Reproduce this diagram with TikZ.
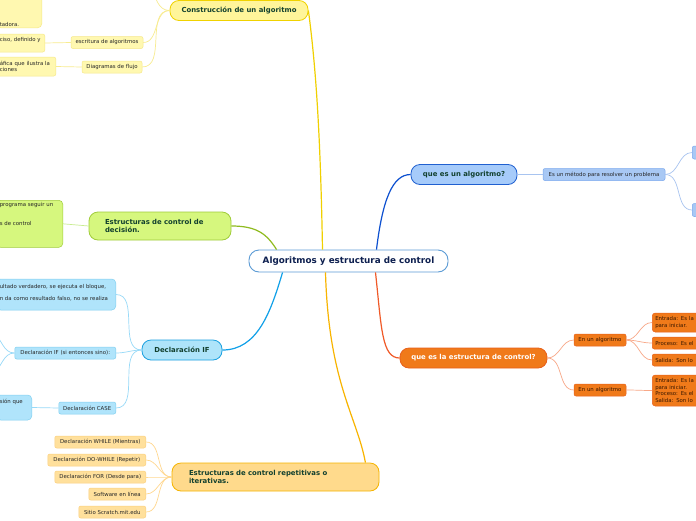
\documentclass[tikz,border=0pt]{standalone}
\usepackage{fontspec}
\setmainfont{DejaVu Sans}
\usetikzlibrary{calc}
\definecolor{navy}{HTML}{0D1F4F}
\definecolor{dkg}{HTML}{12402E}
\definecolor{txt}{HTML}{262626}
\definecolor{rootb}{HTML}{5B9BD5}
\definecolor{yfill}{HTML}{FFF59A}\definecolor{ybord}{HTML}{F0D200}
\definecolor{ysfill}{HTML}{FFF8B0}\definecolor{ysbord}{HTML}{F6E88A}
\definecolor{yline}{HTML}{F0D000}\definecolor{ysline}{HTML}{F8EC90}
\definecolor{gfill}{HTML}{D6F77E}\definecolor{gbord}{HTML}{A0CC3A}
\definecolor{gline}{HTML}{90BB20}\definecolor{gsline}{HTML}{C8EC90}
\definecolor{lbfill}{HTML}{AEE4FA}\definecolor{lbbord}{HTML}{1AA0E0}
\definecolor{lbsfill}{HTML}{B0E4FB}\definecolor{lbsbord}{HTML}{80D0F0}
\definecolor{lbline}{HTML}{10A0E8}\definecolor{lbsline}{HTML}{98DAF8}
\definecolor{oyfill}{HTML}{FFDA8C}\definecolor{oybord}{HTML}{F5B400}
\definecolor{oysfill}{HTML}{FFE09C}\definecolor{oysbord}{HTML}{FCD07E}
\definecolor{oyline}{HTML}{F8B400}\definecolor{oysline}{HTML}{FFD890}
\definecolor{dbfill}{HTML}{A6CBFA}\definecolor{dbbord}{HTML}{2060D0}
\definecolor{dbsfill}{HTML}{A8C8F4}\definecolor{dbsbord}{HTML}{7AA8EE}
\definecolor{dbline}{HTML}{0D50D0}\definecolor{dbsline}{HTML}{A8C4F0}
\definecolor{orfill}{HTML}{F07A1A}\definecolor{orbord}{HTML}{E8601A}
\definecolor{orline}{HTML}{F05A28}\definecolor{orsline}{HTML}{F8A888}
\definecolor{ortxt}{HTML}{3A1800}
\tikzset{
  rootbox/.style={draw=rootb, line width=0.9pt, fill=white, rounded corners=10pt,
    minimum width=199pt, minimum height=22pt, inner sep=0pt,
    font=\bfseries\fontsize{8.8}{10.5}\selectfont, text=navy},
  mainbox/.style={rounded corners=9pt, line width=0.8pt, minimum height=20pt,
    inner sep=0pt, font=\bfseries\fontsize{6.9}{8.8}\selectfont, text=dkg},
  smbox/.style={draw, rounded corners=2pt, line width=0.5pt, minimum height=12pt,
    inner xsep=3pt, inner ysep=1pt, font=\fontsize{5.4}{6.5}\selectfont, text=txt},
  ysm/.style={smbox, fill=ysfill, draw=ysbord},
  gsm/.style={smbox, fill=gfill, draw=gbord},
  lbsm/.style={smbox, fill=lbsfill, draw=lbsbord},
  oysm/.style={smbox, fill=oysfill, draw=oysbord},
  dbsm/.style={smbox, fill=dbsfill, draw=dbsbord},
  orsm/.style={smbox, fill=orfill, draw=orbord, text=ortxt},
  mline/.style={line width=1.2pt},
  sline/.style={line width=0.7pt},
}
\begin{document}
\begin{tikzpicture}[x=1pt,y=-1pt]
\useasboundingbox (0,0) rectangle (696,520);
\clip (0,0) rectangle (696,520);
\fill[white] (0,0) rectangle (696,520);

% ---------- nodes ----------
\node[rootbox] (root) at (348.5,261) {Algoritmos y estructura de control};

\node[mainbox, fill=yfill, draw=ybord, minimum width=138pt] (cons) at (239,10.5) {Construcción de un algoritmo};
\node[mainbox, fill=gfill, draw=gbord, minimum height=28pt, text width=110pt, inner xsep=16pt, align=left] (dec) at (160,226) {Estructuras de control de\\decisión.};
\node[mainbox, fill=lbfill, draw=lbbord, minimum width=80pt] (if) at (182,350) {Declaración IF};
\node[mainbox, fill=oyfill, draw=oybord, minimum height=28pt, text width=173pt, inner xsep=17pt, align=left] (rep) at (275.5,477) {Estructuras de control repetitivas o\\iterativas.};
\node[mainbox, fill=dbfill, draw=dbbord, minimum width=106pt] (alg) at (464,174.5) {que es un algoritmo?};
\node[mainbox, fill=orfill, draw=orbord, minimum width=147pt, text=white] (est) at (473.5,358) {que es la estructura de control?};

% yellow children
\node[ysm, minimum width=72pt] (esc) at (107,42.5) {escritura de algoritmos};
\node[ysm, minimum width=60pt] (dia) at (112,67) {Diagramas de flujo};
\node[ysm, anchor=east, text width=42pt, align=left, minimum height=18pt] (escg) at (45,43) {ciso, definido y\\\mbox{}};
\node[ysm, anchor=east, text width=53pt, align=left, minimum height=19pt] (diag) at (56,66.5) {áfica que ilustra la\\ciones};
\node[ysm, anchor=south east, text width=39pt, align=left, rounded corners=4pt] (topg) at (42,28) {\mbox{}\\\mbox{}\\\mbox{}\\\mbox{}\\\mbox{}\\tadora.};
\coordinate (consup) at (150,-14);

% green child
\node[gsm, anchor=north east, text width=60pt, align=left, rounded corners=4pt, inner ysep=2pt] (decg) at (63,200) {programa seguir un\\\mbox{}\\\mbox{}\\s de control\\\mbox{}\\\mbox{}\\\mbox{}};

% light blue children
\node[lbsm, anchor=east, text width=113pt, align=left, minimum height=31pt, rounded corners=4pt] (ifc1) at (116,294.5) {ultado verdadero, se ejecuta el bloque,\\[5pt]n da como resultado falso, no se realiza\\[-2pt]\mbox{}};
\node[lbsm, anchor=east, minimum width=101pt] (ifc2) at (116,353) {Declaración IF (si entonces sino):};
\node[lbsm, anchor=east, minimum width=57pt] (ifc3) at (116,408) {Declaración CASE};
\node[lbsm, anchor=east, text width=29pt, align=left, minimum height=25pt, rounded corners=4pt] (ifc3g) at (32,407.5) {sión que\\\mbox{}\\\mbox{}};
\coordinate (ifa) at (-8,332);
\coordinate (ifb) at (-8,374);

% orange-yellow children
\node[oysm, anchor=east, minimum width=91pt] (w1) at (146,442) {Declaración WHILE (Mientras)};
\node[oysm, anchor=east, minimum width=98pt] (w2) at (146,460) {Declaración DO-WHILE (Repetir)};
\node[oysm, anchor=east, minimum width=91pt] (w3) at (146,477) {Declaración FOR (Desde para)};
\node[oysm, anchor=east, minimum width=57pt] (w4) at (146,494) {Software en línea};
\node[oysm, anchor=east, minimum width=67pt] (w5) at (146,512) {Sitio Scratch.mit.edu};

% dark blue children
\node[dbsm, minimum width=122pt] (met) at (604,174.5) {Es un método para resolver un problema};
\node[dbsm, anchor=west, minimum width=30pt, minimum height=13pt] (m1) at (692,152.5) {};
\node[dbsm, anchor=west, minimum width=30pt, minimum height=13pt] (m2) at (692,210) {};

% orange children
\node[orsm, minimum width=52pt] (en1) at (600,340) {En un algoritmo};
\node[orsm, minimum width=52pt] (en2) at (600,390) {En un algoritmo};
\node[orsm, anchor=west, text width=60pt, align=left, minimum height=19pt, rounded corners=3pt] (g1) at (652,322.5) {Entrada: Es la\\para iniciar.};
\node[orsm, anchor=west, text width=60pt, align=left] (g2) at (652,343) {Proceso: Es el};
\node[orsm, anchor=west, text width=60pt, align=left] (g3) at (652,360) {Salida: Son lo};
\node[orsm, anchor=west, text width=60pt, align=left, minimum height=31pt, rounded corners=3pt] (g4) at (652,390.5) {Entrada: Es la\\para iniciar.\\Proceso: Es el\\Salida: Son lo};

% ---------- main connectors ----------
\draw[mline, yline] ($(root.north)+(-26,0)$) .. controls +(-2,-110) and +(8,60) .. (cons.east);
\draw[mline, gline] ($(root.north west)+(28,0)$) .. controls +(-10,-16) and +(25,0) .. (dec.east);
\draw[mline, lbline] ($(root.south west)+(34,0)$) .. controls +(-12,40) and +(35,0) .. (if.east);
\draw[mline, oyline] ($(root.south)+(-23,0)$) .. controls +(3,110) and +(-8,-45) .. ($(rep.north east)+(-14,0)$);
\draw[mline, dbline] ($(root.north)+(28,0)$) .. controls +(6,-50) and +(-18,0) .. (alg.west);
\draw[mline, orline] ($(root.south)+(27,0)$) .. controls +(6,55) and +(-18,0) .. (est.west);

% ---------- sub connectors ----------
\draw[sline, ysline] (cons.west) to[out=180,in=0] (esc.east);
\draw[sline, ysline] (cons.west) to[out=180,in=0] (dia.east);
\draw[sline, ysline] (cons.west) to[out=180,in=-60] (consup);
\draw[sline, ysline] (esc.west) -- (escg.east);
\draw[sline, ysline] (dia.west) -- (diag.east);

\draw[sline, gsline] (dec.west) -- (decg.east);

\draw[sline, lbsline] (if.west) to[out=180,in=0] (ifc1.east);
\draw[sline, lbsline] (if.west) to[out=180,in=0] (ifc2.east);
\draw[sline, lbsline] (if.west) to[out=180,in=0] (ifc3.east);
\draw[sline, lbsline] (ifc3.west) -- (ifc3g.east);
\draw[sline, lbsline] (ifc2.west) to[out=180,in=-30] (ifa);
\draw[sline, lbsline] (ifc2.west) to[out=180,in=30] (ifb);

\foreach \n in {w1,w2,w3,w4,w5}
  \draw[sline, oysline] (rep.west) to[out=180,in=0] (\n.east);

\draw[sline, dbsline] (alg.east) -- (met.west);
\draw[sline, dbsline] (met.east) to[out=0,in=180] (m1.west);
\draw[sline, dbsline] (met.east) to[out=0,in=180] (m2.west);

\draw[sline, orsline] (est.east) to[out=0,in=180] (en1.west);
\draw[sline, orsline] (est.east) to[out=0,in=180] (en2.west);
\draw[sline, orsline] (en1.east) to[out=0,in=180] (g1.west);
\draw[sline, orsline] (en1.east) to[out=0,in=180] (g2.west);
\draw[sline, orsline] (en1.east) to[out=0,in=180] (g3.west);
\draw[sline, orsline] (en2.east) to[out=0,in=180] (g4.west);
\end{tikzpicture}
\end{document}
